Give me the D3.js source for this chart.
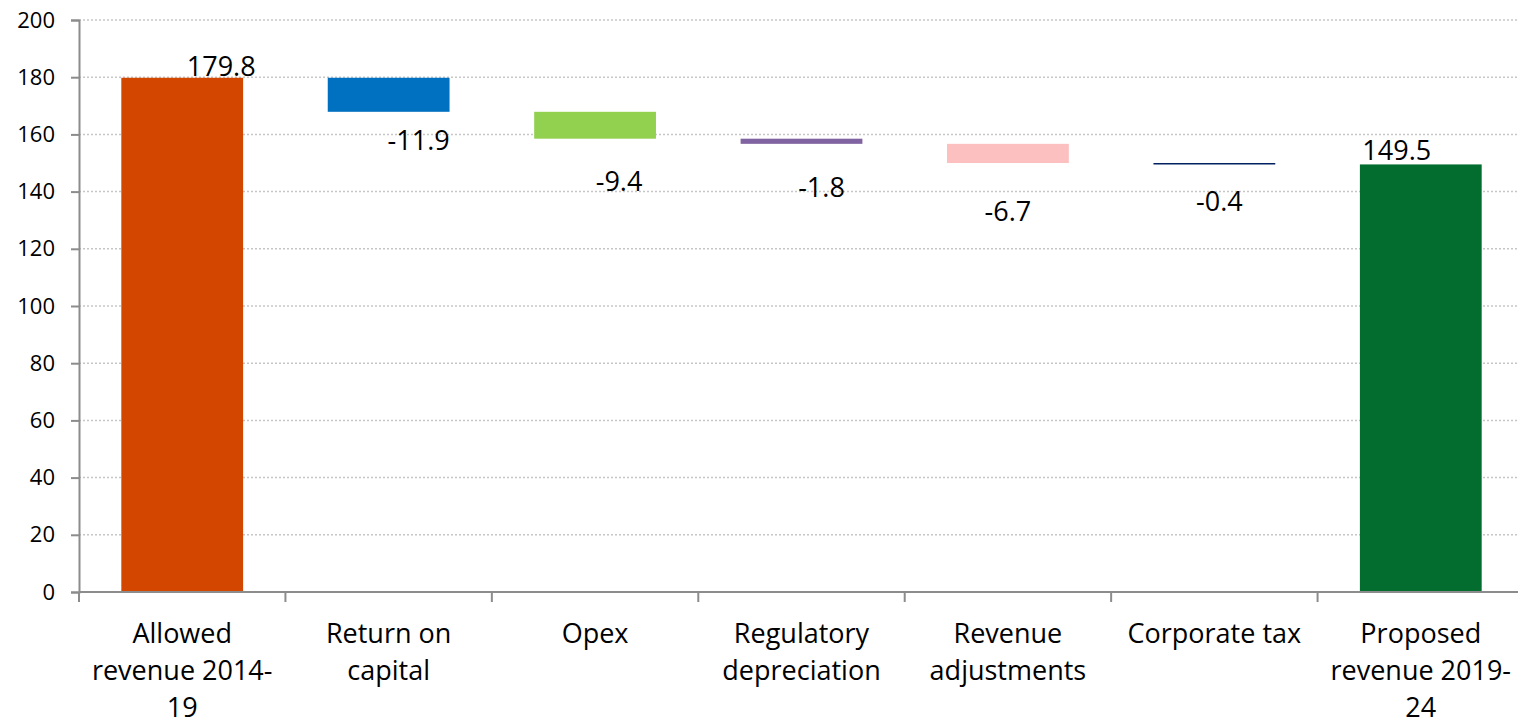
<!DOCTYPE html>
<html>
<head>
<meta charset="utf-8">
<script src="https://cdn.jsdelivr.net/npm/d3@7"></script>
<style>
  body { margin: 0; background: #fff; }
  text { font-family: "Open Sans", "Noto Sans", sans-serif; fill: #000; }
</style>
</head>
<body>
<svg id="chart" width="1518" height="722"></svg>
<script>
// Data
const categories = ["Allowed revenue 2014-19", "Return on capital", "Opex", "Regulatory depreciation",
  "Revenue adjustments", "Corporate tax", "Proposed revenue 2019-24"];
const categoryLines = [["Allowed", "revenue 2014-", "19"], ["Return on", "capital"], ["Opex"],
  ["Regulatory", "depreciation"], ["Revenue", "adjustments"], ["Corporate tax"], ["Proposed", "revenue 2019-", "24"]];
const values = [179.8, -11.9, -9.4, -1.8, -6.7, -0.4, 149.5];
const isTotal = [true, false, false, false, false, false, true];
const colors = ["#D24600", "#0070C0", "#92D050", "#8064A2", "#FBC0BF", "#002060", "#036C2F"];
const yTicks = [0, 20, 40, 60, 80, 100, 120, 140, 160, 180, 200];

const margin = { top: 20, left: 79 };
const height = 572;
const svg = d3.select("#chart");
const g = svg.append("g").attr("transform", "translate(" + margin.left + "," + margin.top + ")");

// build waterfall start/end
let running = 0;
const bars = values.map((v, i) => {
  let lo, hi;
  if (isTotal[i]) { lo = 0; hi = v; running = v; }
  else { const s = running; running = +(running + v).toFixed(1); lo = Math.min(s, running); hi = Math.max(s, running); }
  return { cat: categories[i], value: v, lo: lo, hi: hi, total: isTotal[i], color: colors[i], i: i };
});

const x = d3.scaleBand().domain(categories).range([0, 1445]).paddingInner(0.41).paddingOuter(0.205);
const xb = d3.scaleBand().domain(categories).range([0, 1445]);
const y = d3.scaleLinear().domain([0, 200]).range([height, 0]);

// gridlines
g.append("g").selectAll("line").data(yTicks.filter(d => d > 0)).enter().append("line")
  .attr("x1", 0).attr("x2", 1439)
  .attr("y1", d => y(d)).attr("y2", d => y(d))
  .attr("stroke", "#c6c6c6").attr("stroke-width", 1.5).attr("stroke-dasharray", "2,2");

// bars
g.selectAll(".bar").data(bars).enter().append("rect")
  .attr("x", d => x(d.cat))
  .attr("width", x.bandwidth())
  .attr("y", d => y(d.hi))
  .attr("height", d => Math.max(y(d.lo) - y(d.hi), 1.5))
  .attr("fill", d => d.color);

// y axis
const yAxis = g.append("g")
  .call(d3.axisLeft(y).tickValues(yTicks).tickSize(8).tickPadding(16));
yAxis.select(".domain").attr("stroke", "#8c8c8c").attr("stroke-width", 2);
yAxis.selectAll(".tick line").attr("stroke", "#8c8c8c").attr("stroke-width", 2);
yAxis.selectAll(".tick text").attr("font-size", "22px").attr("font-family", "Open Sans");

// x axis
const xAxis = g.append("g").attr("transform", "translate(0," + height + ")");
xAxis.append("line").attr("x1", 0).attr("x2", 1445).attr("stroke", "#8c8c8c").attr("stroke-width", 2);
xAxis.selectAll(".xtick").data(categories.concat(["end"])).enter().append("line")
  .attr("x1", (d, i) => i < categories.length ? xb(d) : 1445)
  .attr("x2", (d, i) => i < categories.length ? xb(d) : 1445)
  .attr("y1", 0).attr("y2", 10)
  .attr("stroke", "#8c8c8c").attr("stroke-width", 2);

categories.forEach((c, i) => {
  const t = xAxis.append("text")
    .attr("x", x(c) + x.bandwidth() / 2)
    .attr("y", 51)
    .attr("text-anchor", "middle")
    .attr("font-size", "27px");
  categoryLines[i].forEach((ln, j) => {
    t.append("tspan").attr("x", x(c) + x.bandwidth() / 2).attr("dy", j === 0 ? 0 : 37).text(ln);
  });
});

// data labels (manual nudges as in the original)
const labelDx = [39, 30, 24, 20, 0, 5, -24];
const labelDy = [-2, 38, 52, 53, 58, 47, -4];
g.selectAll(".lbl").data(bars).enter().append("text")
  .attr("x", d => x(d.cat) + x.bandwidth() / 2 + labelDx[d.i])
  .attr("y", d => d.total ? y(d.hi) + labelDy[d.i] : y(d.lo) + labelDy[d.i])
  .attr("text-anchor", "middle")
  .attr("font-size", "27px")
  .text(d => d.value.toFixed(1));
</script>
</body>
</html>
